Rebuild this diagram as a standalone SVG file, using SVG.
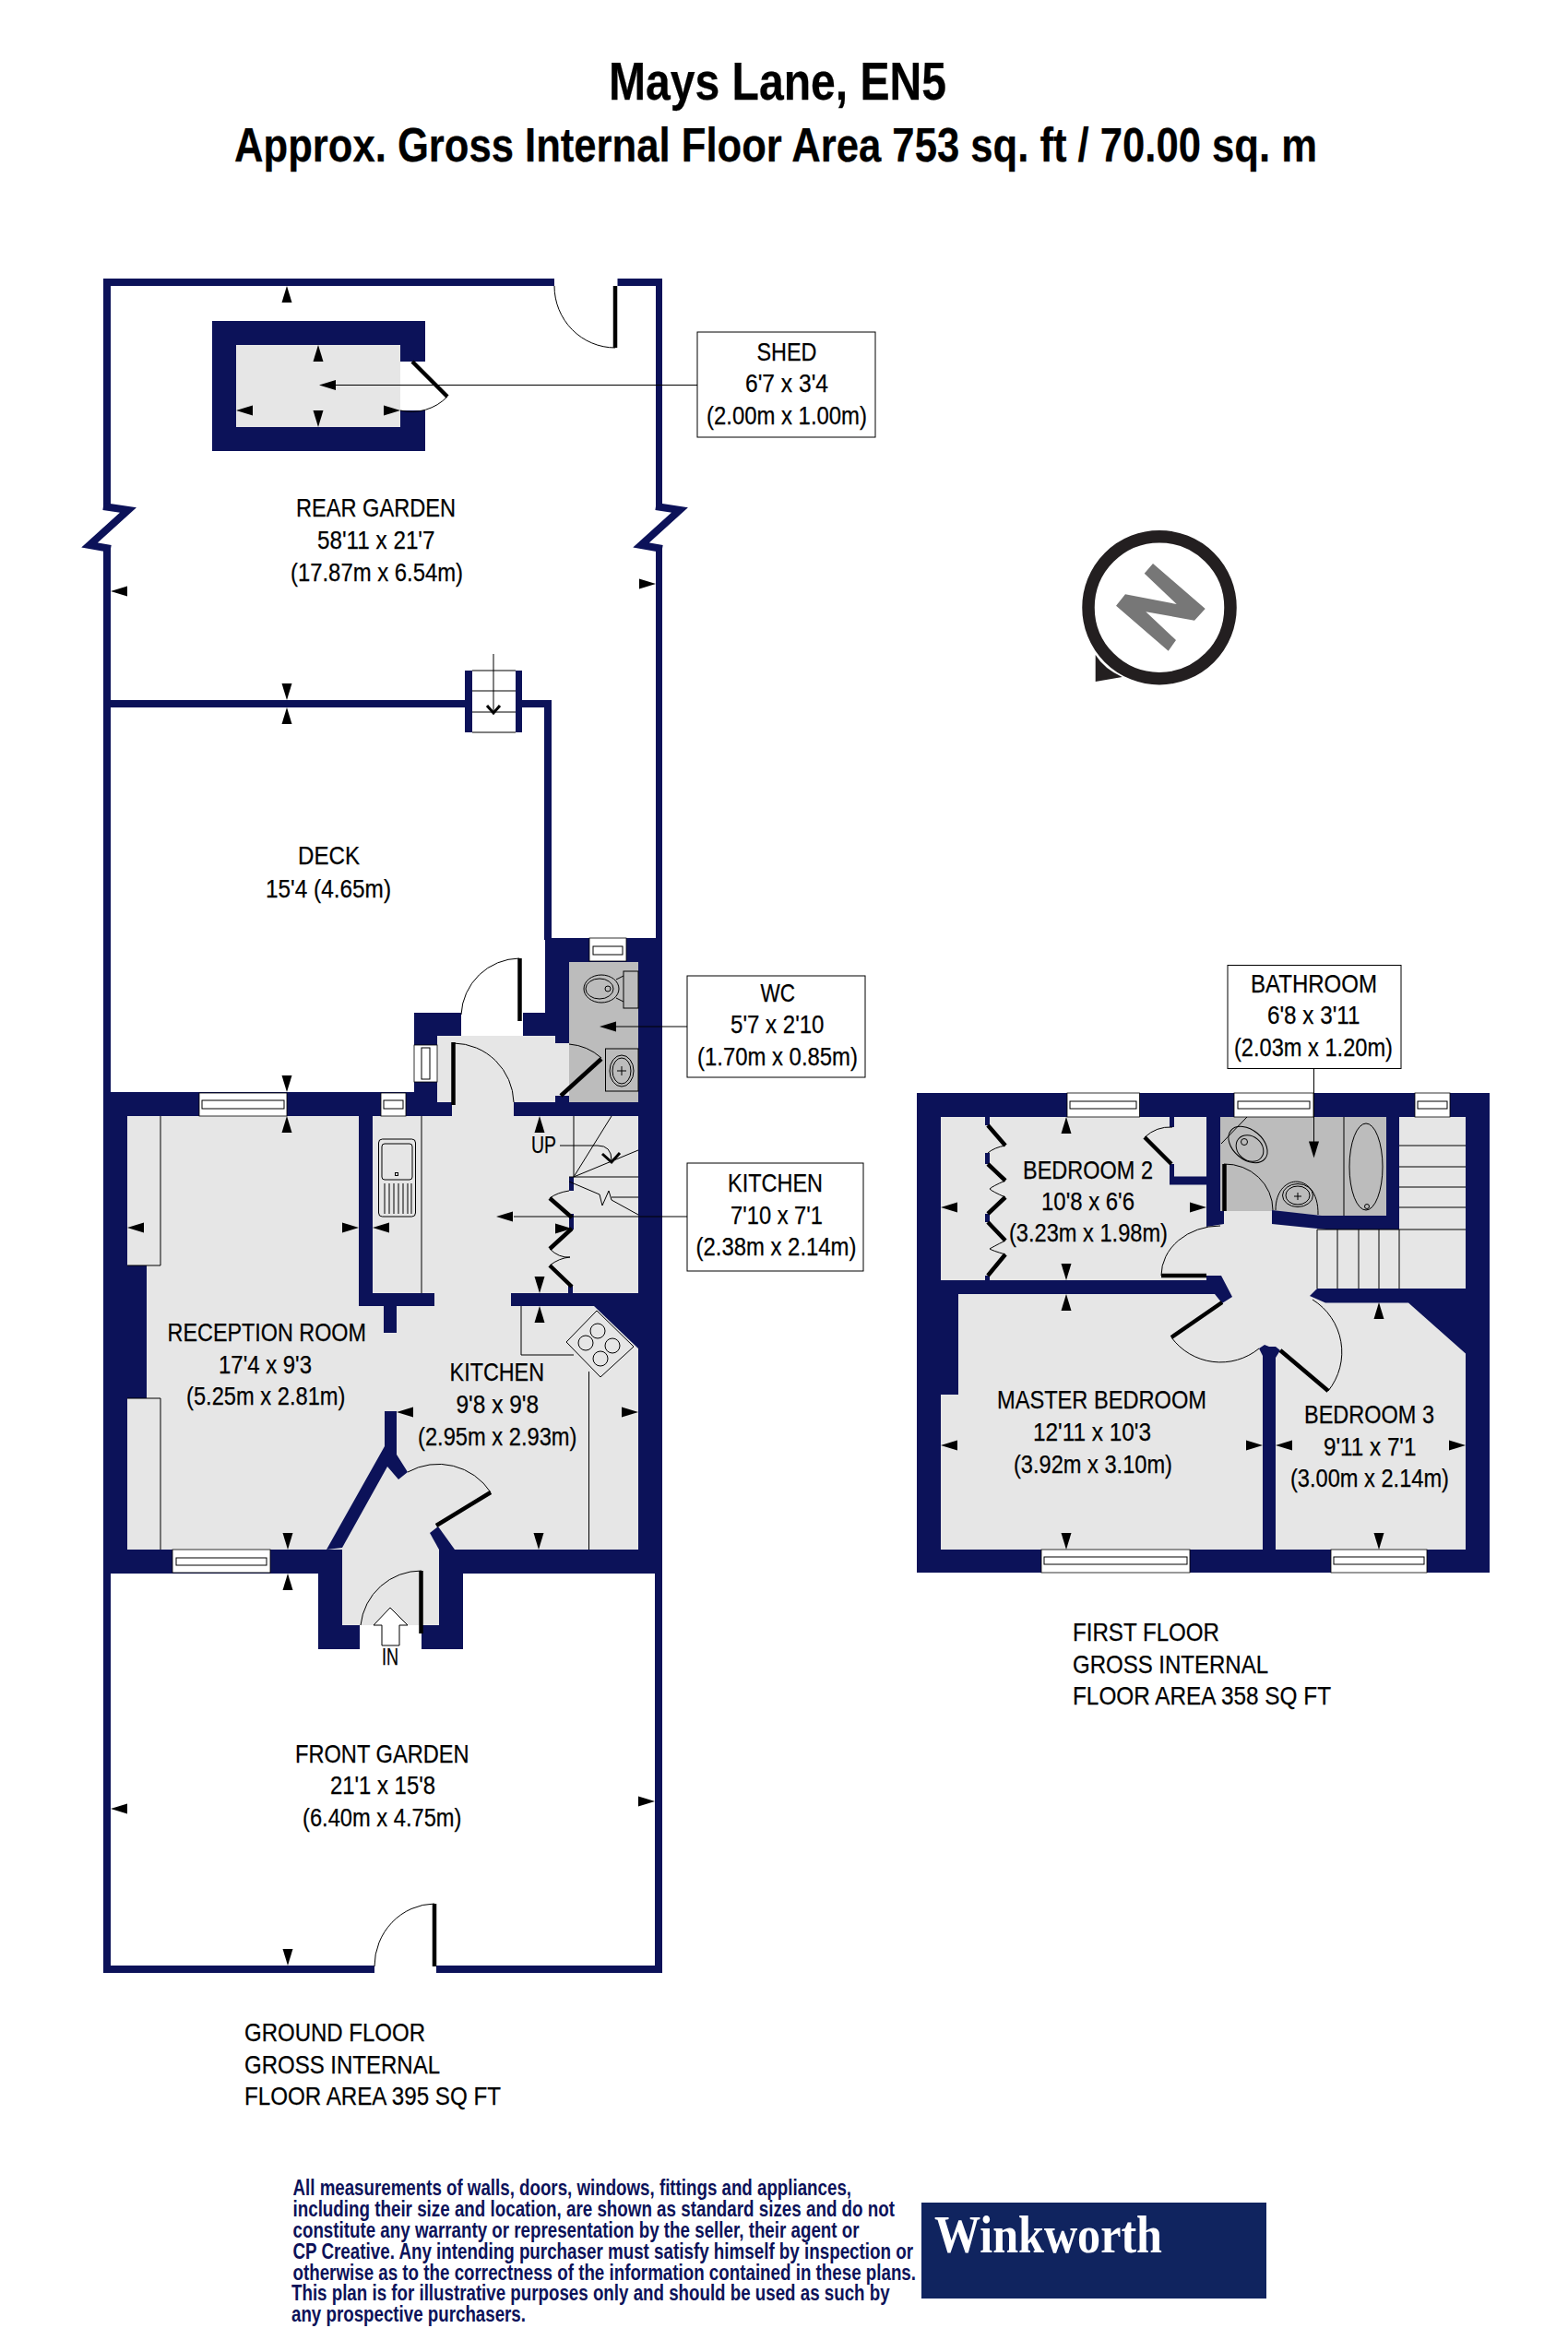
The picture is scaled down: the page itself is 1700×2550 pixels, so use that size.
<svg xmlns="http://www.w3.org/2000/svg" width="1700" height="2550" viewBox="0 0 1700 2550">
<style>
.w{fill:#0c1259}
.r{fill:#e6e6e6}
.g{fill:#bcbcbc}
.l{fill:none;stroke:#000;stroke-width:1}
.d{fill:none;stroke:#000;stroke-width:4.5}
.z{fill:none;stroke:#0c1259;stroke-width:8}
.win{fill:#fff;stroke:#000;stroke-width:.8}
.box{fill:#fff;stroke:#000;stroke-width:1}
text{font-family:"Liberation Sans",Arial,sans-serif;fill:#000;font-size:28px;stroke:#000;stroke-width:.25}
.h{font-weight:700;font-size:58px}
.f{font-size:23px;fill:#0c1259;stroke:none;font-weight:700}
.lg{font-family:"Liberation Serif","Times New Roman",serif;font-weight:700;font-size:56px;fill:#fff;stroke:none}
</style>
<defs>
<path id="a" d="M0 0L5.5 18H-5.5Z" fill="#000"/>
</defs>
<rect width="1700" height="2550" fill="#fff"/>

<g id="title">
<text class="h" x="660" y="108" textLength="366" lengthAdjust="spacingAndGlyphs">Mays Lane, EN5</text>
<text class="h" x="254" y="175" textLength="1174" lengthAdjust="spacingAndGlyphs" style="font-size:52px">Approx. Gross Internal Floor Area 753 sq. ft / 70.00 sq. m</text>
</g>

<g id="ground-floor">
<g id="gardens">
<rect class="w" x="112" y="302" width="489" height="8"/>
<rect class="w" x="669.5" y="302" width="48.5" height="8"/>
<rect class="w" x="112" y="302" width="8" height="248"/>
<rect class="w" x="112" y="594" width="8" height="600"/>
<rect class="w" x="711" y="302" width="7" height="248"/>
<rect class="w" x="711" y="594" width="7" height="430"/>
<path class="z" d="M112 549L139 553L97 591L120 595"/>
<path class="z" d="M711 549L737 553L695 591L718 595"/>
<rect class="w" x="120" y="759" width="384" height="8"/>
<rect class="w" x="566" y="759" width="32" height="8"/>
<rect class="w" x="590" y="759" width="8" height="260"/>
<rect class="w" x="504" y="727" width="8" height="67"/>
<rect class="w" x="559" y="727" width="7" height="67"/>
<path class="l" d="M512 727H559M512 749H559M512 772H559M512 794H559M535 709V773"/>
<path d="M528 765L535 773L542 765" fill="none" stroke="#000" stroke-width="3"/>
<rect class="w" x="112" y="1706" width="8" height="433"/>
<rect class="w" x="710" y="1706" width="8" height="433"/>
<rect class="w" x="112" y="2131" width="294" height="8"/>
<rect class="w" x="473" y="2131" width="245" height="8"/>
<path class="d" d="M667 310V377M471 2064V2132"/>
<path class="l" d="M667 377A66 67 0 0 1 601 310M471 2064A66 68 0 0 0 406 2132"/>
</g>

<g id="shed">
<rect class="w" x="230" y="348" width="231" height="141"/>
<rect class="r" x="256" y="374" width="178" height="89"/>
<rect x="434" y="392" width="28" height="53" fill="#fff"/>
<path class="d" d="M447 392L485 430"/>
<path class="l" d="M485 430A54 54 0 0 1 434 445"/>
</g>

<g id="house">
<path class="w" d="M112 1184H449V1098H591V1017H718V1706H112Z"/>
<rect x="500" y="1098" width="67" height="25" fill="#fff"/>
<path class="r" d="M138 1210H490V1195H474V1123H602V1131H617V1188H602V1195H557V1210H692V1680H138Z"/>
<rect class="g" x="617" y="1043" width="75" height="152"/>
<rect class="w" x="602" y="1188" width="15" height="7"/>
<rect class="w" x="345" y="1680" width="157" height="108"/>
<rect class="r" x="371" y="1678" width="105" height="84"/>
<rect x="390" y="1762" width="67" height="27" fill="#fff"/>
<rect class="w" x="138" y="1372" width="21" height="144"/>
<rect class="w" x="389" y="1210" width="15" height="206"/>
<rect class="w" x="389" y="1402" width="82" height="14"/>
<rect class="w" x="416" y="1416" width="14" height="29"/>
<rect class="w" x="554" y="1402" width="138" height="14"/>
<path class="w" d="M644 1416H692V1462Z"/>
<path class="w" d="M417 1530H430V1577L442 1596L432 1604L420 1590L371 1678L354 1680L417 1568Z"/>
<path class="w" d="M466 1662L475 1655L493 1680H476Z"/>
<rect class="w" x="617" y="1276" width="5" height="15"/>
<rect class="w" x="617" y="1316" width="5" height="17"/>
<rect class="w" x="616" y="1394" width="5" height="8"/>
<path class="d" d="M563.500 1039V1107M491.500 1130V1198M652 1148L608 1188M596 1299L620 1320M620 1332L596 1354M596 1372L620 1395M473 1654L532 1618M456.500 1703V1771"/>
<path class="l" d="M563 1039A64 64 0 0 0 500 1100M492 1131A66 66 0 0 1 557 1195M652 1147A60 60 0 0 0 617 1132M596 1299Q604 1293 617 1291M596 1354Q606 1364 618 1363Q606 1364 596 1372M532 1618A68 68 0 0 0 442 1596M457 1703A66 66 0 0 0 391 1762"/>
<path class="l" d="M174 1210V1372H138M138 1516H174V1680M457 1210V1402M622 1210V1276M622 1276L663 1210M622 1276L692 1247M617 1276H692M617 1281L650 1295L653 1307L660 1291L663 1301L692 1317M663 1298H692M565 1416V1469H622M638.500 1487V1680"/>
<path class="l" d="M410.500 1239q0 -4 4 -4h32q4 0 4 4v76q0 4 -4 4h-32q-4 0 -4 -4z"/>
<path class="l" d="M414 1243q0 -3 3 -3h27q3 0 3 3v33q0 3 -3 3h-27q-3 0 -3 -3zM417 1283V1316M422 1283V1316M427 1283V1316M432 1283V1316M437 1283V1316M442 1283V1316M446 1283V1316"/>
<rect class="l" x="428.500" y="1271.500" width="3" height="3"/>
<path class="l" d="M647 1421L687 1460L651 1493L614 1455Z"/>
<circle class="l" cx="648" cy="1443" r="8"/><circle class="l" cx="635" cy="1456" r="8"/><circle class="l" cx="664" cy="1459" r="8"/><circle class="l" cx="651" cy="1473" r="8"/>
<rect class="l" x="676" y="1053" width="16" height="40"/>
<ellipse class="l" cx="652" cy="1072" rx="19" ry="15"/><ellipse class="l" cx="650" cy="1072" rx="15" ry="11"/><circle class="l" cx="659" cy="1072" r="3"/>
<path class="l" d="M668 1062L676 1058M668 1082L676 1086"/>
<rect class="l" x="656.500" y="1137" width="35.500" height="46"/>
<ellipse class="l" cx="674" cy="1161" rx="13" ry="17"/><ellipse class="l" cx="674" cy="1161" rx="10" ry="14"/><path class="l" d="M669 1161H679M674 1156V1166"/>
<path d="M653 1251L663 1260L672 1250" fill="none" stroke="#000" stroke-width="3"/>
<path class="l" d="M607 1242H648Q663 1242 663 1258"/>
</g>

<g id="windows-ground">
<rect class="win" x="216" y="1185" width="95" height="25"/><rect class="l" x="219" y="1193" width="89" height="9"/>
<rect class="win" x="413" y="1185" width="27" height="25"/><rect class="l" x="416" y="1193" width="21" height="9"/>
<rect class="win" x="449" y="1133" width="25" height="40"/><rect class="l" x="457" y="1136" width="9" height="34"/>
<rect class="win" x="639" y="1017" width="40" height="25"/><rect class="l" x="643" y="1026" width="32" height="9"/>
<rect class="win" x="187" y="1680" width="106" height="25"/><rect class="l" x="191" y="1689" width="98" height="8"/>
</g>

<path id="in-arrow" d="M423 1743L442 1762H433V1784H414V1762H405Z" fill="#fff" stroke="#000" stroke-width="1"/>
</g>

<g id="first-floor">
<rect class="w" x="994" y="1185" width="621" height="520"/>
<rect class="r" x="1020" y="1211" width="569" height="469"/>
<rect class="w" x="1020" y="1388" width="19" height="124"/>
<rect class="w" x="1020" y="1388" width="292" height="15"/>
<path class="w" d="M1308 1383H1324L1336 1406L1325 1413L1317 1403H1308Z"/>
<path class="w" d="M1308 1211H1327V1327L1308 1330Z"/>
<path class="g" d="M1323 1211H1503V1318H1433L1379 1313H1323Z"/>
<path class="w" d="M1379 1312L1433 1318H1503V1211H1517V1333H1438L1379 1327Z"/>
<rect class="w" x="1268" y="1211" width="5" height="11"/>
<rect class="w" x="1268" y="1262" width="5" height="22"/>
<rect class="w" x="1268" y="1275.500" width="40" height="9"/>
<path class="w" d="M1420 1405L1428 1397H1589V1467.500L1527 1412.500H1437Z"/>
<path class="w" d="M1369 1470L1365 1462L1371 1458L1376 1460L1383 1460L1388 1464L1383 1472V1680H1369Z"/>
<rect class="w" x="1068" y="1211" width="5" height="9"/>
<rect class="w" x="1068" y="1250" width="5" height="12"/>
<rect class="w" x="1068" y="1316" width="5" height="9"/>
<rect class="w" x="1068" y="1383" width="5" height="5"/>
<path class="d" d="M1071 1220L1090 1242M1071 1262L1090 1280M1090 1298L1071 1316M1071 1325L1090 1345M1090 1360L1071 1383M1241 1233L1270 1262M1259 1383H1308M1327.500 1262V1313M1325 1412L1270 1450M1388 1464L1440 1508"/>
<path class="l" d="M1090 1242Q1078 1244 1071 1250M1090 1280Q1076 1286 1073 1289Q1076 1292 1090 1298M1090 1345Q1076 1352 1073 1354Q1076 1356 1090 1360M1241 1233A41 41 0 0 1 1271 1222M1259 1383A64 54 0 0 1 1323 1329M1327 1262A52 50 0 0 1 1380 1312M1270 1450A66 66 0 0 0 1365 1462M1440 1508A67 67 0 0 0 1423 1409"/>
<path class="l" d="M1517 1242H1589M1517 1265H1589M1517 1287H1589M1517 1309H1589M1428 1333H1589M1428 1333V1397M1450 1333V1397M1473 1333V1397M1495 1333V1397M1517 1333V1397"/>
<path class="l" d="M1457 1211V1318M1324 1240L1352 1211"/>
<ellipse class="l" cx="1481" cy="1265" rx="18" ry="47"/><circle class="l" cx="1482" cy="1308" r="2.500"/>
<ellipse class="l" cx="1353" cy="1241" rx="24" ry="16" transform="rotate(40 1353 1241)"/><ellipse class="l" cx="1355" cy="1245" rx="16" ry="13" transform="rotate(40 1355 1245)"/><circle class="l" cx="1349" cy="1238" r="3.500"/>
<path class="l" d="M1383 1312C1383 1270 1430 1270 1429 1317"/>
<ellipse class="l" cx="1407" cy="1296" rx="16.500" ry="12.500"/><ellipse class="l" cx="1407" cy="1296" rx="13" ry="10"/><path class="l" d="M1403 1297H1411M1407 1293V1301"/>
<g id="windows-first">
<rect class="win" x="1157" y="1185" width="78.500" height="26"/><rect class="l" x="1160" y="1194" width="72" height="8"/>
<rect class="win" x="1338" y="1185" width="86" height="26"/><rect class="l" x="1342" y="1194" width="78" height="8"/>
<rect class="win" x="1534" y="1185" width="38" height="26"/><rect class="l" x="1537" y="1194" width="32" height="8"/>
<rect class="win" x="1129" y="1680" width="161" height="25"/><rect class="l" x="1132" y="1688" width="155" height="8"/>
<rect class="win" x="1443" y="1680" width="104" height="25"/><rect class="l" x="1446" y="1688" width="98" height="8"/>
</g>
</g>

<g id="connectors">
<path class="l" d="M364 417.500H756M668 1113H745M557 1319H745M1424.500 1158.500V1238"/>
</g>

<g id="dimension-arrows">
<use href="#a" transform="translate(311 310)"/>
<use href="#a" transform="translate(120 641) rotate(-90)"/>
<use href="#a" transform="translate(711 633) rotate(90)"/>
<use href="#a" transform="translate(345 374)"/>
<use href="#a" transform="translate(345 463) rotate(180)"/>
<use href="#a" transform="translate(256 445) rotate(-90)"/>
<use href="#a" transform="translate(434 445) rotate(90)"/>
<use href="#a" transform="translate(346 417.500) rotate(-90)"/>
<use href="#a" transform="translate(311 759) rotate(180)"/>
<use href="#a" transform="translate(311 767)"/>
<use href="#a" transform="translate(311 1184) rotate(180)"/>
<use href="#a" transform="translate(311 1210)"/>
<use href="#a" transform="translate(650 1113) rotate(-90)"/>
<use href="#a" transform="translate(585 1210)"/>
<use href="#a" transform="translate(538 1319) rotate(-90)"/>
<use href="#a" transform="translate(138 1331) rotate(-90)"/>
<use href="#a" transform="translate(389 1331) rotate(90)"/>
<use href="#a" transform="translate(404 1331) rotate(-90)"/>
<use href="#a" transform="translate(620 1332) rotate(90)"/>
<use href="#a" transform="translate(585 1402) rotate(180)"/>
<use href="#a" transform="translate(585 1416)"/>
<use href="#a" transform="translate(430 1531) rotate(-90)"/>
<use href="#a" transform="translate(692 1531) rotate(90)"/>
<use href="#a" transform="translate(312 1680) rotate(180)"/>
<use href="#a" transform="translate(312 1706)"/>
<use href="#a" transform="translate(584 1680) rotate(180)"/>
<use href="#a" transform="translate(120 1961) rotate(-90)"/>
<use href="#a" transform="translate(710 1953) rotate(90)"/>
<use href="#a" transform="translate(312 2131) rotate(180)"/>
<use href="#a" transform="translate(1424.500 1255.500) rotate(180)"/>
<use href="#a" transform="translate(1156 1211)"/>
<use href="#a" transform="translate(1156 1388) rotate(180)"/>
<use href="#a" transform="translate(1020 1309) rotate(-90)"/>
<use href="#a" transform="translate(1308 1309) rotate(90)"/>
<use href="#a" transform="translate(1156 1403)"/>
<use href="#a" transform="translate(1020 1567) rotate(-90)"/>
<use href="#a" transform="translate(1369 1567) rotate(90)"/>
<use href="#a" transform="translate(1156 1680) rotate(180)"/>
<use href="#a" transform="translate(1383 1567) rotate(-90)"/>
<use href="#a" transform="translate(1589 1567) rotate(90)"/>
<use href="#a" transform="translate(1495 1412)"/>
<use href="#a" transform="translate(1495 1680) rotate(180)"/>
</g>

<g id="label-shed">
<rect class="box" x="756" y="360" width="193" height="114"/>
<text x="820.500" y="391" textLength="65" lengthAdjust="spacingAndGlyphs">SHED</text>
<text x="808" y="425" textLength="90" lengthAdjust="spacingAndGlyphs">6'7 x 3'4</text>
<text x="766" y="460" textLength="174" lengthAdjust="spacingAndGlyphs">(2.00m x 1.00m)</text>
</g>
<g id="label-wc">
<rect class="box" x="745" y="1058" width="193" height="110"/>
<text x="824.500" y="1086" textLength="37.500" lengthAdjust="spacingAndGlyphs">WC</text>
<text x="792" y="1120" textLength="101.500" lengthAdjust="spacingAndGlyphs">5'7 x 2'10</text>
<text x="756" y="1155" textLength="174" lengthAdjust="spacingAndGlyphs">(1.70m x 0.85m)</text>
</g>
<g id="label-kitchen-upper">
<rect class="box" x="745" y="1261" width="191" height="117"/>
<text x="789" y="1292" textLength="103" lengthAdjust="spacingAndGlyphs">KITCHEN</text>
<text x="792" y="1327" textLength="100" lengthAdjust="spacingAndGlyphs">7'10 x 7'1</text>
<text x="754.500" y="1361" textLength="174" lengthAdjust="spacingAndGlyphs">(2.38m x 2.14m)</text>
</g>
<g id="label-bathroom">
<rect class="box" x="1331" y="1046.500" width="188" height="112"/>
<text x="1356" y="1076" textLength="137" lengthAdjust="spacingAndGlyphs">BATHROOM</text>
<text x="1374" y="1110" textLength="100.500" lengthAdjust="spacingAndGlyphs">6'8 x 3'11</text>
<text x="1338" y="1145" textLength="172" lengthAdjust="spacingAndGlyphs">(2.03m x 1.20m)</text>
</g>

<g id="room-labels">
<text x="321" y="560" textLength="173" lengthAdjust="spacingAndGlyphs">REAR GARDEN</text>
<text x="344" y="595" textLength="127.500" lengthAdjust="spacingAndGlyphs">58'11 x 21'7</text>
<text x="315" y="630" textLength="187" lengthAdjust="spacingAndGlyphs">(17.87m x 6.54m)</text>
<text x="323" y="937" textLength="67" lengthAdjust="spacingAndGlyphs">DECK</text>
<text x="288" y="973" textLength="136" lengthAdjust="spacingAndGlyphs">15'4 (4.65m)</text>
<text x="181.600" y="1454" textLength="215.400" lengthAdjust="spacingAndGlyphs">RECEPTION ROOM</text>
<text x="237" y="1488.600" textLength="101" lengthAdjust="spacingAndGlyphs">17'4 x 9'3</text>
<text x="202" y="1523" textLength="172.500" lengthAdjust="spacingAndGlyphs">(5.25m x 2.81m)</text>
<text x="487.600" y="1497" textLength="102.400" lengthAdjust="spacingAndGlyphs">KITCHEN</text>
<text x="494.500" y="1532" textLength="89.500" lengthAdjust="spacingAndGlyphs">9'8 x 9'8</text>
<text x="453" y="1567" textLength="172.500" lengthAdjust="spacingAndGlyphs">(2.95m x 2.93m)</text>
<text x="320" y="1911" textLength="188.600" lengthAdjust="spacingAndGlyphs">FRONT GARDEN</text>
<text x="358" y="1945" textLength="114" lengthAdjust="spacingAndGlyphs">21'1 x 15'8</text>
<text x="328" y="1980" textLength="172.500" lengthAdjust="spacingAndGlyphs">(6.40m x 4.75m)</text>
<text x="414" y="1805" textLength="18" lengthAdjust="spacingAndGlyphs" style="font-size:26px">IN</text>
<text x="576" y="1250" textLength="27" lengthAdjust="spacingAndGlyphs" style="font-size:26px">UP</text>
<text x="1109" y="1278" textLength="141" lengthAdjust="spacingAndGlyphs">BEDROOM 2</text>
<text x="1129" y="1312" textLength="101" lengthAdjust="spacingAndGlyphs">10'8 x 6'6</text>
<text x="1094" y="1346" textLength="172" lengthAdjust="spacingAndGlyphs">(3.23m x 1.98m)</text>
<text x="1081" y="1527" textLength="227" lengthAdjust="spacingAndGlyphs">MASTER BEDROOM</text>
<text x="1120" y="1562" textLength="128" lengthAdjust="spacingAndGlyphs">12'11 x 10'3</text>
<text x="1099" y="1597" textLength="172" lengthAdjust="spacingAndGlyphs">(3.92m x 3.10m)</text>
<text x="1414" y="1543" textLength="141" lengthAdjust="spacingAndGlyphs">BEDROOM 3</text>
<text x="1435" y="1578" textLength="100.500" lengthAdjust="spacingAndGlyphs">9'11 x 7'1</text>
<text x="1399" y="1612" textLength="172" lengthAdjust="spacingAndGlyphs">(3.00m x 2.14m)</text>
</g>

<g id="floor-area-labels">
<text x="265" y="2213" textLength="196" lengthAdjust="spacingAndGlyphs">GROUND FLOOR</text>
<text x="265" y="2248" textLength="212" lengthAdjust="spacingAndGlyphs">GROSS INTERNAL</text>
<text x="265" y="2282" textLength="278" lengthAdjust="spacingAndGlyphs">FLOOR AREA 395 SQ FT</text>
<text x="1163" y="1779" textLength="159" lengthAdjust="spacingAndGlyphs">FIRST FLOOR</text>
<text x="1163" y="1814" textLength="212" lengthAdjust="spacingAndGlyphs">GROSS INTERNAL</text>
<text x="1163" y="1848" textLength="280" lengthAdjust="spacingAndGlyphs">FLOOR AREA 358 SQ FT</text>
</g>

<g id="compass">
<circle cx="1257" cy="658.700" r="77" fill="none" stroke="#231f20" stroke-width="13.500"/>
<path d="M1187.700 710V739L1216.700 734Q1197 725 1187.700 710Z" fill="#231f20"/>
<path d="M1250 611L1306.700 660L1295 672.700L1242.300 663.300L1275 694L1266.700 705.700L1210 656.700L1220 644.300L1275.700 655L1240.700 621.700Z" fill="#777"/>
</g>

<g id="disclaimer">
<text class="f" x="317.500" y="2380" textLength="605.500" lengthAdjust="spacingAndGlyphs">All measurements of walls, doors, windows, fittings and appliances,</text>
<text class="f" x="317.500" y="2403" textLength="652.500" lengthAdjust="spacingAndGlyphs">including their size and location, are shown as standard sizes and do not</text>
<text class="f" x="317.500" y="2426" textLength="614" lengthAdjust="spacingAndGlyphs">constitute any warranty or representation by the seller, their agent or</text>
<text class="f" x="317.500" y="2449" textLength="672.500" lengthAdjust="spacingAndGlyphs">CP Creative. Any intending purchaser must satisfy himself by inspection or</text>
<text class="f" x="317.500" y="2472" textLength="675.500" lengthAdjust="spacingAndGlyphs">otherwise as to the correctness of the information contained in these plans.</text>
<text class="f" x="316" y="2494" textLength="648.600" lengthAdjust="spacingAndGlyphs">This plan is for illustrative purposes only and should be used as such by</text>
<text class="f" x="316" y="2517" textLength="254" lengthAdjust="spacingAndGlyphs">any prospective purchasers.</text>
</g>

<g id="logo">
<rect x="999" y="2388" width="374" height="104" fill="#10245f"/>
<text class="lg" x="1013" y="2442" textLength="247" lengthAdjust="spacingAndGlyphs">Winkworth</text>
</g>
</svg>
